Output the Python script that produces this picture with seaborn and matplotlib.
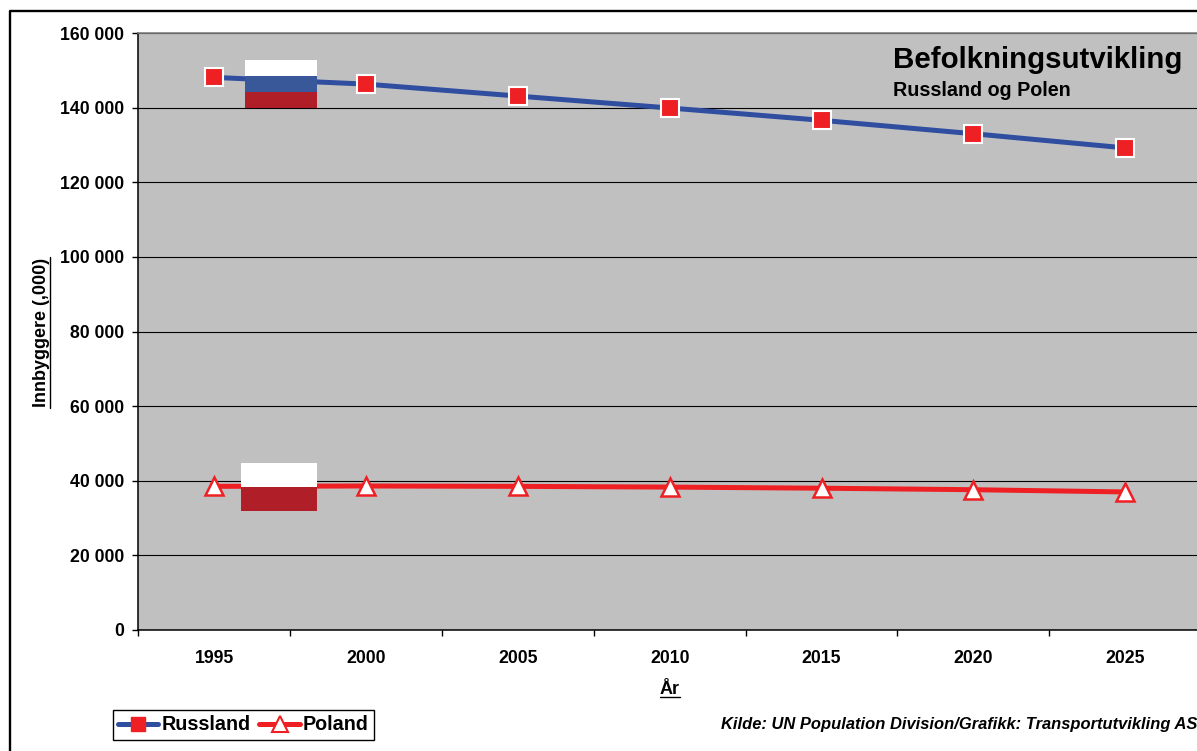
import matplotlib
matplotlib.use("Agg")
import matplotlib.pyplot as plt
from matplotlib.lines import Line2D
from matplotlib.patches import Rectangle
from matplotlib.ticker import FuncFormatter, FixedLocator
import pandas as pd
import seaborn as sns

years = [1995, 2000, 2005, 2010, 2015, 2020, 2025]
russland = [148100, 146300, 143100, 139900, 136600, 133000, 129200]
poland = [38500, 38600, 38500, 38300, 38000, 37600, 37000]

BLUE = "#2f4ea0"
RED = "#ee2024"
FLAG_BLUE = "#38589a"
FLAG_RED = "#b01f28"
PLOT_BG = "#c0c0c0"

sns.set_theme(style="white")
plt.rcParams["font.family"] = ["Liberation Sans", "DejaVu Sans"]
plt.rcParams["font.weight"] = "bold"

W, H = 1197, 751
fig = plt.figure(figsize=(W / 100, H / 100), dpi=100, facecolor="white")
ax = fig.add_axes([138.2 / W, 1 - 630 / H, 1063 / W, 597 / H], facecolor=PLOT_BG)

df = pd.DataFrame({"year": years, "Russland": russland, "Poland": poland})

sns.lineplot(data=df, x="year", y="Russland", ax=ax, color=BLUE, lw=3.6, zorder=3,
             marker="s", ms=13, mfc=RED, mec="white", mew=1.5)
sns.lineplot(data=df, x="year", y="Poland", ax=ax, color=RED, lw=3.6, zorder=3,
             marker="^", ms=13, mfc="white", mec=RED, mew=1.8)

ax.set_xlim(1992.5, 2027.5)
ax.set_ylim(0, 160000)

# Flags sit on top of the series lines
for x0, x1, bands in [
    (1996.02, 1998.39, [(148470, 152760, "white"), (144180, 148470, FLAG_BLUE), (139900, 144180, FLAG_RED)]),
    (1995.87, 1998.39, [(38300, 44750, "white"), (31900, 38300, FLAG_RED)]),
]:
    for y0, y1, c in bands:
        ax.add_patch(Rectangle((x0, y0), x1 - x0, y1 - y0, fc=c, ec="none", zorder=4))

# Year labels sit between the tick marks, which fall on category boundaries
ax.xaxis.set_major_locator(FixedLocator([1992.5 + 5 * i for i in range(8)]))
ax.xaxis.set_minor_locator(FixedLocator(years))
ax.xaxis.set_major_formatter(FuncFormatter(lambda v, p: ""))
ax.xaxis.set_minor_formatter(FuncFormatter(lambda v, p: f"{int(v)}"))
ax.tick_params(axis="x", which="major", direction="out", length=4, width=1, color="black", bottom=True)
ax.tick_params(axis="x", which="minor", length=0, pad=14.6, labelsize=12.7, labelcolor="black", bottom=False)

ax.set_yticks(range(0, 160001, 20000))
ax.yaxis.set_major_formatter(FuncFormatter(lambda v, p: f"{int(v):,}".replace(",", " ")))
ax.tick_params(axis="y", direction="out", length=4, width=1, color="black", left=True, pad=6,
               labelsize=12.7, labelcolor="black")
ax.grid(axis="y", color="black", lw=0.8, zorder=1)
ax.set_axisbelow(True)

for side in ("left", "bottom"):
    ax.spines[side].set_color("black")
    ax.spines[side].set_linewidth(1.1)
ax.spines["top"].set_color("#808080")
ax.spines["top"].set_linewidth(1.2)
ax.spines["right"].set_visible(False)

ax.set_xlabel("")
ax.set_ylabel("")
fig.text(41.5 / W, 1 - 332.5 / H, "Innbyggere (,000)", rotation=90, ha="center", va="center",
         fontsize=13, color="black")
fig.add_artist(Line2D([50 / W, 50 / W], [1 - 408 / H, 1 - 257 / H], color="black", lw=1))
fig.text(670 / W, 1 - 689 / H, "År", ha="center", va="center", fontsize=13, color="black")
fig.add_artist(Line2D([660 / W, 680 / W], [1 - 697 / H, 1 - 697 / H], color="black", lw=1))

fig.text(893 / W, 1 - 60 / H, "Befolkningsutvikling", ha="left", va="center", fontsize=21.25, color="black")
fig.text(893 / W, 1 - 90 / H, "Russland og Polen", ha="left", va="center", fontsize=14.2, color="black")
fig.text(1197 / W, 1 - 725 / H, "Kilde: UN Population Division/Grafikk: Transportutvikling AS",
         ha="right", va="center", fontsize=11.85, style="italic", color="black")

handles = [
    Line2D([], [], color=BLUE, lw=3.6, marker="s", ms=10, mfc=RED, mec=RED, solid_capstyle="round"),
    Line2D([], [], color=RED, lw=3.6, marker="^", ms=11, mfc="white", mec=RED, mew=1.5, solid_capstyle="round"),
]
leg = fig.legend(handles, ["Russland", "Poland"], loc="lower left",
                 bbox_to_anchor=(112.5 / W, 1 - 740 / H), ncol=2, frameon=True, fancybox=False,
                 edgecolor="black", facecolor="white", framealpha=1, fontsize=14.2,
                 handlelength=2.05, handletextpad=0.15, columnspacing=0.45, borderpad=0.28,
                 borderaxespad=0)
leg.get_frame().set_linewidth(1)
for t in leg.get_texts():
    t.set_color("black")

# Outer chart border, open past the right and bottom image edges
fig.add_artist(Line2D([9.5 / W, 9.5 / W, 1200 / W], [-0.01, 1 - 11 / H, 1 - 11 / H], color="black", lw=1.7))

fig.savefig("out.png", dpi=100)
